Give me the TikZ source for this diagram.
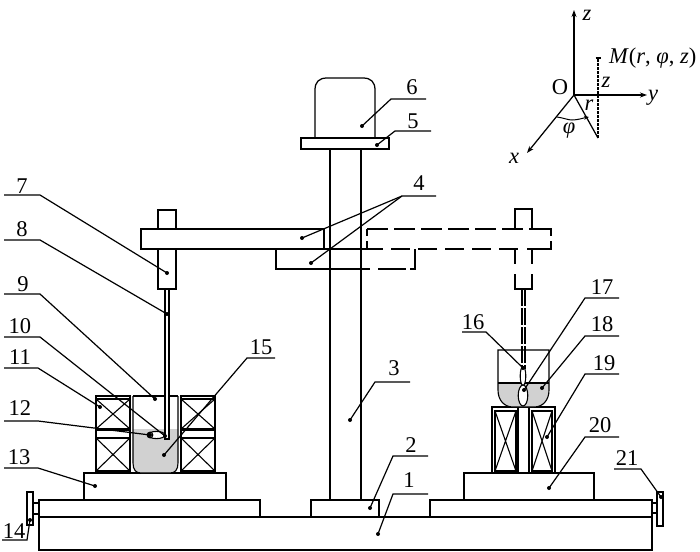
\documentclass[tikz,border=0pt]{standalone}
\usepackage{fontspec}
\setmainfont{Liberation Serif}
\usetikzlibrary{arrows.meta}
\tikzset{
  part/.style={draw=black,line width=1.25pt,line join=miter},
  ghost/.style={draw=black,line width=1.25pt,dash pattern=on 21pt off 6pt},
  ghostlow/.style={draw=black,line width=1.25pt,dash pattern=on 19pt off 8pt},
  thin part/.style={draw=black,line width=1.1pt},
  lead/.style={draw=black,line width=1.2pt},
  tip dot/.style={circle,fill=black,inner sep=0pt,minimum size=4pt},
  numlabel/.style={font=\fontsize{22.5}{24}\selectfont,inner sep=0pt},
  axis/.style={draw=black,line width=1.25pt,-{Stealth[length=7pt,width=5pt]}},
  axlabel/.style={font=\fontsize{22.5}{24}\selectfont\itshape,inner sep=0pt},
  liquid/.style={fill=black!18,draw=none}
}
% label name/text, text position, outer end, knee, leader tip
\newcommand{\callout}[5]{%
  \node[numlabel] (t#1) at (#2) {#1};
  \coordinate (e#1) at (#3);
  \coordinate (k#1) at (#4);
  \node[tip dot] (d#1) at (#5) {};
  \draw[lead] (e#1) -- (k#1) -- (d#1.center);
}
\newcommand{\coilbox}[4]{%
  \draw[thin part] (#1,#3) rectangle (#2,#4);
  \draw[thin part] (#1,#3) -- (#2,#4) (#1,#4) -- (#2,#3);
}
\begin{document}
\begin{tikzpicture}[x=1pt,y=-1pt]
\useasboundingbox (0,0) rectangle (700,551);
\fill[white] (0,0) rectangle (700,551);

% base
\draw[part] (39,517) rectangle (652,550);
\draw[part] (39,500) rectangle (260,517);
\draw[part] (311,517) -- (311,500) -- (379,500) -- (379,517);
\draw[part] (430,517) -- (430,500) -- (652,500) -- (652,517);
\draw[part] (84,473) rectangle (226,500);
\draw[part] (464,473) rectangle (594,500);
% knobs
\draw[part] (33,503) rectangle (39,514);
\draw[part] (27,492) rectangle (33,525);
\draw[part] (652,503) rectangle (657,513);
\draw[part] (657,492) rectangle (663,526);

% column, motor
\draw[part] (330,149) -- (330,500) (361,149) -- (361,500);
\draw[part] (315,138) -- (315,90) .. controls (315,82) and (319,78) .. (327,78) -- (363,78) .. controls (371,78) and (375,82) .. (375,90) -- (375,138);
\draw[part] (301,138) rectangle (389,149);

% arm (solid)
\draw[part] (324,229) -- (141,229) -- (141,249) -- (383,249);
\draw[part] (324,229) -- (324,249);
\draw[part] (276,249) -- (276,269) -- (370,269);
\draw[part] (158,229) -- (158,210) -- (176,210) -- (176,229);
\draw[part] (158,249) -- (158,289) -- (176,289) -- (176,249);
% arm (dashed)
\draw[part] (367,229) -- (367,236) (367,241) -- (367,249);
\draw[ghost] (367,229) -- (550,229);
\draw[part] (529,229) -- (551,229) -- (551,236) (551,241) -- (551,249) -- (527,249);
\draw[ghostlow] (391,249) -- (518,249);
\draw[part] (378,269) -- (406,269) (410,269) -- (415,269) -- (415,249);
\draw[part] (515,229) -- (515,209) -- (532,209) -- (532,229);
\draw[part] (515,249) -- (515,264) (532,249) -- (532,264);
\draw[part] (515,274) -- (515,289) -- (532,289) -- (532,274);
\draw[thin part,dash pattern=on 17pt off 2pt] (522,289) -- (522,369);
\draw[thin part,dash pattern=on 17pt off 2pt] (525,289) -- (525,369);

% left coil
\foreach \a/\b in {96/130,181/215}{
  \draw[part] (\a,396) rectangle (\b,473);
  \draw[thin part] (\a,399) -- (\b,399) (\a,471) -- (\b,471);
  \coilbox{\a}{\b}{399}{429}
  \coilbox{\a}{\b}{438}{471}
  \draw[line width=1.6pt] (\a,430) -- (\b,430) (\a,438) -- (\b,438);
}
% left crucible
\fill[liquid] (133,429) -- (178,429) -- (178,463) .. controls (178,470) and (175,473) .. (170,473) -- (141,473) .. controls (136,473) and (133,470) .. (133,463) -- cycle;
\draw[thin part] (133,396) -- (178,396);
\draw[thin part] (133,396) -- (133,463) .. controls (133,470) and (136,473) .. (141,473) -- (170,473) .. controls (175,473) and (178,470) .. (178,463) -- (178,396);
\draw[thin part,fill=white] (165,289) rectangle (169,439);
\draw[thin part,fill=white] (156.5,435) ellipse [x radius=8.5,y radius=3.6];
\draw[thin part] (150,435) circle [radius=2.8];

% right coil
\draw[part] (492,407) rectangle (555,473);
\draw[part] (518,407) -- (518,473) (529,407) -- (529,473);
\coilbox{495}{516}{411}{471}
\coilbox{532}{552}{411}{471}
% right crucible
\fill[liquid] (498,383) -- (549,383) -- (549,390) .. controls (549,400) and (543,407) .. (534,407) -- (513,407) .. controls (504,407) and (498,400) .. (498,390) -- cycle;
\draw[thin part] (498,350) -- (549,350) -- (549,390) .. controls (549,400) and (543,407) .. (534,407) -- (513,407) .. controls (504,407) and (498,400) .. (498,390) -- cycle;
\draw[thin part] (498,383) -- (549,383);
\draw[thin part,fill=white] (523,376) ellipse [x radius=2.8,y radius=9.5];
\draw[thin part,fill=white] (523,395.5) ellipse [x radius=4.8,y radius=10.5];

% callouts
\callout{1}{409,480}{428,494}{393,494}{378,534}
\callout{2}{411,445}{428,456}{393,456}{370,508}
\callout{3}{394,368}{410,382}{375,382}{350,420}
\node[numlabel] (t4) at (419,183) {4};
\coordinate (e4) at (436,196);
\coordinate (k4) at (402,196);
\node[tip dot] (d4a) at (302,238) {};
\node[tip dot] (d4b) at (311,263) {};
\draw[lead] (e4) -- (k4) -- (d4a.center);
\draw[lead] (k4) -- (d4b.center);
\callout{5}{413,121}{431,131}{395,131}{377,145}
\callout{6}{412,87}{426,99}{391,99}{362,126}
\callout{7}{22,186}{4,195}{40,195}{167,273}
\callout{8}{22,229}{4,240}{40,240}{167,314}
\callout{9}{23,284}{4,294}{40,294}{155,399}
\callout{10}{20,326}{4,337}{40,337}{165,436}
\callout{11}{20,357}{4,368}{38,368}{100,407}
\callout{12}{20,408}{4,421}{38,421}{150,435}
\callout{13}{19,457}{4,468}{38,468}{95,486}
\callout{14}{14,531}{2,540}{27,540}{30,520}
\callout{15}{261,347}{275,358}{247,358}{164,455}
\callout{16}{473,322}{462,332}{486,332}{523,368}
\callout{17}{602,287}{619,298}{585,298}{524,390}
\callout{18}{602,324}{619,336}{585,336}{542,388}
\callout{19}{604,363}{619,374}{585,374}{547,437}
\callout{20}{600,425}{619,437}{585,437}{549,488}
\callout{21}{627,458}{614,469}{641,469}{661,497}

% coordinate system
\coordinate (O) at (574,95);
\coordinate (zend) at (574,10);
\coordinate (yend) at (647,95);
\coordinate (xend) at (527,153);
\coordinate (F) at (598,138);
\coordinate (Mp) at (598,58);
\draw[axis] (O) -- (zend);
\draw[axis] (O) -- (yend);
\draw[axis] (O) -- (xend);
\draw[part] (O) -- (F);
\draw[thin part,dash pattern=on 3pt off 1pt] (F) -- (Mp);
\draw[line width=1.2pt] (595.5,58) -- (600.5,58);
\draw[line width=1pt,-{Stealth[length=5pt,width=4pt]}] (557,117) .. controls (564,118) and (568,120) .. (572,120) .. controls (578,120) and (583,118) .. (589,117);
\node[axlabel] (lz) at (587,15) {z};
\node[axlabel] (ly) at (653,98) {y};
\node[axlabel] (lx) at (514,158) {x};
\node[numlabel] (lO) at (560,87) {O};
\node[axlabel] (lz2) at (606,82) {z};
\node[axlabel] (lr) at (589,105) {r};
\node[axlabel] (lphi) at (569,131) {φ};
\node[axlabel,anchor=west] (lM) at (609,58) {M\textup{(}r\textup{,} φ\textup{,} z\textup{)}};
\end{tikzpicture}
\end{document}
